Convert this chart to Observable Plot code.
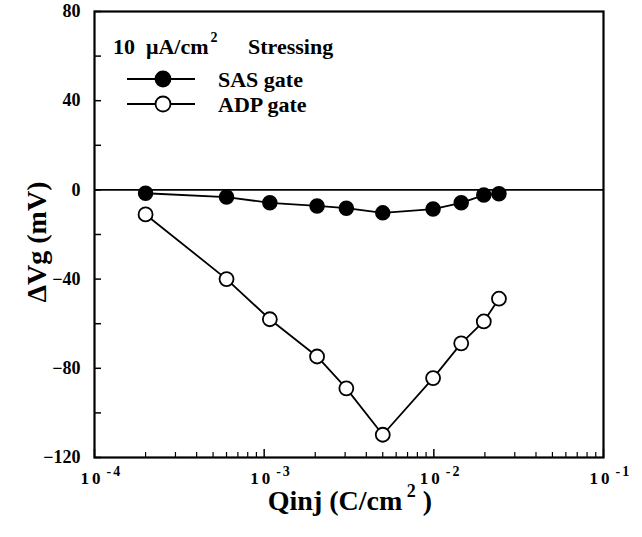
<!DOCTYPE html>
<html>
<head>
<meta charset="utf-8">
<script src="https://cdn.jsdelivr.net/npm/d3@7"></script>
<script src="https://cdn.jsdelivr.net/npm/@observablehq/plot@0.6"></script>
<style>
  html, body { margin: 0; padding: 0; background: #fff; }
  #chart { position: relative; width: 642px; height: 537px; }
  #chart svg, #chart svg text { font-family: "Liberation Serif", "DejaVu Serif", serif !important; }
  .sp10 text { letter-spacing: 3px; }
  .spexp text { letter-spacing: 2px; }
</style>
</head>
<body>
<div id="chart"></div>
<script>
// ---- data ----
const qinj  = [2e-4, 6e-4, 1.08e-3, 2.05e-3, 3.05e-3, 5e-3, 9.9e-3, 1.45e-2, 1.97e-2, 2.42e-2];
const sasVg = [-1.5, -3.2, -5.8, -7.2, -8.2, -10.3, -8.6, -5.8, -2.3, -1.7];
const adpVg = [-11, -40, -58, -74.7, -89, -109.8, -84.4, -68.8, -59, -48.8];

const yMajor = [80, 40, 0, -40, -80, -120];
const yMinor = [80, 60, 40, 20, 0, -20, -40, -60, -80, -100, -120];
const xMajor = [1e-4, 1e-3, 1e-2, 1e-1];
const xExp   = ["-4", "-3", "-2", "-1"];
const xMinorMult = [2, 3, 4, 5, 6, 7, 8, 9];
const xDecades = [1e-4, 1e-3, 1e-2];

const titleText = "10  μA/cm";
const titleText2 = "Stressing";
const seriesNames = ["SAS gate", "ADP gate"];
const xLabel = "Qinj (C/cm";
const yLabel = "ΔVg (mV)";

// ---- layout ----
const W = 642, H = 537;
const mL = 94, mR = 39, mT = 11, mB = 80;
const pw = W - mL - mR, ph = H - mT - mB;
const FONT = '"Liberation Serif", "DejaVu Serif", serif';

const sas = qinj.map((q, i) => ({q, v: sasVg[i]}));
const adp = qinj.map((q, i) => ({q, v: adpVg[i]}));
const xMinor = xDecades.flatMap(d => xMinorMult.map(m => m * d));

const plot = Plot.plot({
  width: W, height: H,
  marginLeft: mL, marginRight: mR, marginTop: mT, marginBottom: mB,
  style: {fontFamily: FONT, fontWeight: "bold", fontSize: "16px", background: "#fff", color: "#000"},
  x: {type: "log", domain: [1e-4, 1e-1], axis: null},
  y: {domain: [-120, 80], axis: null},
  marks: [
    Plot.frame({stroke: "#000", strokeWidth: 2.2}),
    Plot.ruleY([0], {stroke: "#000", strokeWidth: 1.6}),
    // inward ticks
    Plot.tickY(yMinor, {y: d => d, insetRight: pw - 7, stroke: "#000", strokeWidth: 1.5}),
    Plot.tickX(xMajor, {x: d => d, insetTop: ph - 8, stroke: "#000", strokeWidth: 1.5}),
    Plot.tickX(xMinor, {x: d => d, insetTop: ph - 5, stroke: "#000", strokeWidth: 1.2}),
    // y tick labels
    Plot.axisY(yMajor, {tickSize: 0, tickPadding: 14, label: null, fontSize: 18, fontWeight: "bold"}),
    // x tick labels "10" + exponent
    Plot.text(xMajor, {x: d => d, frameAnchor: "bottom", text: () => "10", textAnchor: "end", lineAnchor: "bottom", dx: 9, dy: 26, fontSize: 17, fontWeight: "bold", fill: "#000", className: "sp10"}),
    Plot.text(xMajor, {x: d => d, frameAnchor: "bottom", text: (d, i) => xExp[i], textAnchor: "start", lineAnchor: "bottom", dx: 12, dy: 18, fontSize: 14, fontWeight: "bold", fill: "#000", className: "spexp"}),
    // series
    Plot.line(adp, {x: "q", y: "v", stroke: "#000", strokeWidth: 1.8}),
    Plot.line(sas, {x: "q", y: "v", stroke: "#000", strokeWidth: 1.8}),
    Plot.dot(adp, {x: "q", y: "v", r: 7, fill: "#fff", stroke: "#000", strokeWidth: 1.8}),
    Plot.dot(sas, {x: "q", y: "v", r: 7, fill: "#000", stroke: "#000", strokeWidth: 1.5})
  ]
});
document.getElementById("chart").appendChild(plot);

// ---- legend and axis titles ----
const svg = d3.select(plot);
const g = svg.append("g").attr("font-weight", "bold").attr("fill", "#000").attr("text-anchor", "start");

const t = g.append("text").attr("x", 113).attr("y", 54).attr("font-size", 22).attr("xml:space", "preserve");
t.append("tspan").text(titleText);
t.append("tspan").attr("dx", 2).attr("font-size", 14).attr("dy", -12).text("2");
t.append("tspan").attr("x", 248).attr("dy", 12).text(titleText2);

const legY = [79, 104];
const legFill = ["#000", "#fff"];
seriesNames.forEach((name, i) => {
  g.append("line").attr("x1", 127).attr("x2", 195).attr("y1", legY[i]).attr("y2", legY[i])
    .attr("stroke", "#000").attr("stroke-width", 1.8);
  g.append("circle").attr("cx", 163).attr("cy", legY[i]).attr("r", 7.5)
    .attr("fill", legFill[i]).attr("stroke", "#000").attr("stroke-width", 1.8);
  g.append("text").attr("x", 218).attr("y", legY[i] + 8).attr("font-size", 22).text(name);
});

const xl = g.append("text").attr("x", 350).attr("y", 510).attr("text-anchor", "middle").attr("font-size", 28).attr("xml:space", "preserve");
xl.append("tspan").text(xLabel);
xl.append("tspan").attr("font-size", 18).attr("dy", -13).text(" 2");
xl.append("tspan").attr("dy", 13).text(" )");

g.append("text").attr("transform", "translate(46,242) rotate(-90)")
  .attr("text-anchor", "middle").attr("font-size", 28).text(yLabel);
</script>
</body>
</html>
